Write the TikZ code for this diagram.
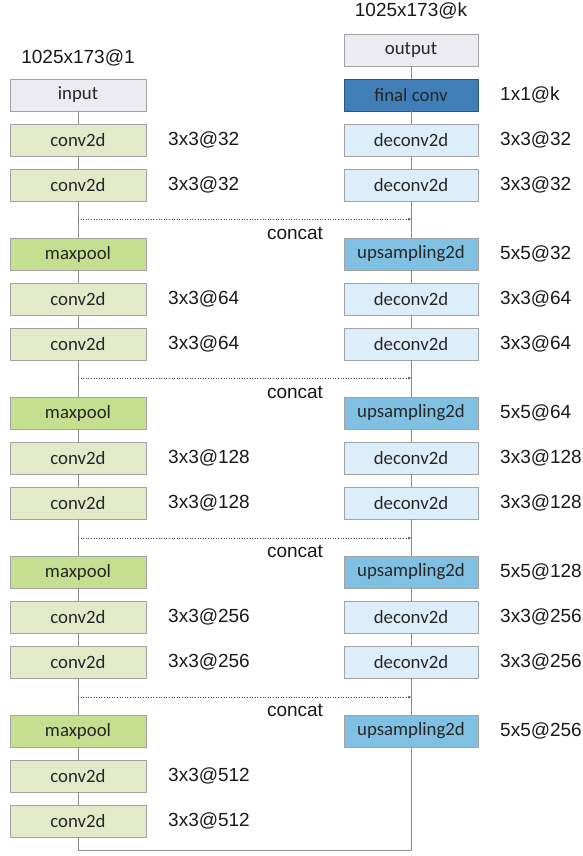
\documentclass[tikz,border=0pt]{standalone}
\usepackage{fontspec}
\setmainfont{Liberation Sans}
\newfontfamily\boxfont{Carlito}
\usetikzlibrary{arrows.meta}
\definecolor{boxline}{HTML}{A3A3A3}
\definecolor{ioFill}{HTML}{EBEBF1}
\definecolor{convFill}{HTML}{E2EACA}
\definecolor{poolFill}{HTML}{C5DF90}
\definecolor{deconvFill}{HTML}{DCEEFA}
\definecolor{upFill}{HTML}{80C1E3}
\definecolor{finalFill}{HTML}{3F7EB6}
\definecolor{linkgray}{HTML}{8C8C8C}
\begin{document}
\begin{tikzpicture}[x=1pt,y=-1pt,
  layer/.style={draw=boxline, line width=0.8pt, minimum height=32pt, inner sep=0pt,
    font=\boxfont\fontsize{18.8}{20}\selectfont, text=black!85},
  lbox/.style={layer, minimum width=136pt},
  rbox/.style={layer, minimum width=134pt},
  io/.style={fill=ioFill},
  conv/.style={fill=convFill},
  pool/.style={fill=poolFill},
  deconv/.style={fill=deconvFill},
  ups/.style={fill=upFill},
  final/.style={fill=finalFill, draw=finalFill!70!black},
  lab/.style={anchor=west, inner sep=0pt, font=\fontsize{19}{21}\selectfont, text=black!90},
  toplab/.style={inner sep=0pt, font=\fontsize{19}{21}\selectfont, text=black!90},
  link/.style={draw=linkgray, line width=0.8pt},
  skip/.style={draw=black!75, line width=0.6pt, dotted, -{Stealth[length=3pt,width=2.5pt]}},
  concatlab/.style={inner sep=0pt, font=\fontsize{19}{21}\selectfont, text=black!90}
]
\useasboundingbox (0,0) rectangle (583,856);

% ---- top labels
\node[toplab] (inlab) at (78,58) {1025x173@1};
\node[toplab] (outlab) at (411,11) {1025x173@k};

% ---- left column (encoder)
\node[lbox,io]   (L1)  at (78,95)  {input};
\node[lbox,conv] (L2)  at (78,140) {conv2d};
\node[lbox,conv] (L3)  at (78,185) {conv2d};
\node[lbox,pool] (L4)  at (78,254) {maxpool};
\node[lbox,conv] (L5)  at (78,299) {conv2d};
\node[lbox,conv] (L6)  at (78,344) {conv2d};
\node[lbox,pool] (L7)  at (78,413) {maxpool};
\node[lbox,conv] (L8)  at (78,458) {conv2d};
\node[lbox,conv] (L9)  at (78,503) {conv2d};
\node[lbox,pool] (L10) at (78,572) {maxpool};
\node[lbox,conv] (L11) at (78,617) {conv2d};
\node[lbox,conv] (L12) at (78,662) {conv2d};
\node[lbox,pool] (L13) at (78,731) {maxpool};
\node[lbox,conv] (L14) at (78,776) {conv2d};
\node[lbox,conv] (L15) at (78,821) {conv2d};

\node[lab] (tL2)  at (168,140) {3x3@32};
\node[lab] (tL3)  at (168,185) {3x3@32};
\node[lab] (tL5)  at (168,299) {3x3@64};
\node[lab] (tL6)  at (168,344) {3x3@64};
\node[lab] (tL8)  at (168,458) {3x3@128};
\node[lab] (tL9)  at (168,503) {3x3@128};
\node[lab] (tL11) at (168,617) {3x3@256};
\node[lab] (tL12) at (168,662) {3x3@256};
\node[lab] (tL14) at (168,776) {3x3@512};
\node[lab] (tL15) at (168,821) {3x3@512};

% ---- right column (decoder)
\node[rbox,io]     (R0)  at (411,50)  {output};
\node[rbox,final]  (R1)  at (411,95)  {final conv};
\node[rbox,deconv] (R2)  at (411,140) {deconv2d};
\node[rbox,deconv] (R3)  at (411,185) {deconv2d};
\node[rbox,ups]    (R4)  at (411,254) {upsampling2d};
\node[rbox,deconv] (R5)  at (411,299) {deconv2d};
\node[rbox,deconv] (R6)  at (411,344) {deconv2d};
\node[rbox,ups]    (R7)  at (411,413) {upsampling2d};
\node[rbox,deconv] (R8)  at (411,458) {deconv2d};
\node[rbox,deconv] (R9)  at (411,503) {deconv2d};
\node[rbox,ups]    (R10) at (411,572) {upsampling2d};
\node[rbox,deconv] (R11) at (411,617) {deconv2d};
\node[rbox,deconv] (R12) at (411,662) {deconv2d};
\node[rbox,ups]    (R13) at (411,731) {upsampling2d};

\node[lab] (tR1)  at (500,95)  {1x1@k};
\node[lab] (tR2)  at (500,140) {3x3@32};
\node[lab] (tR3)  at (500,185) {3x3@32};
\node[lab] (tR4)  at (500,254) {5x5@32};
\node[lab] (tR5)  at (500,299) {3x3@64};
\node[lab] (tR6)  at (500,344) {3x3@64};
\node[lab] (tR7)  at (500,413) {5x5@64};
\node[lab] (tR8)  at (500,458) {3x3@128};
\node[lab] (tR9)  at (500,503) {3x3@128};
\node[lab] (tR10) at (500,572) {5x5@128};
\node[lab] (tR11) at (500,617) {3x3@256};
\node[lab] (tR12) at (500,662) {3x3@256};
\node[lab] (tR13) at (500,731) {5x5@256};

% ---- vertical connectors
\foreach \a/\b in {L1/L2,L2/L3,L3/L4,L4/L5,L5/L6,L6/L7,L7/L8,L8/L9,L9/L10,L10/L11,L11/L12,L12/L13,L13/L14,L14/L15,
                   R0/R1,R1/R2,R2/R3,R3/R4,R4/R5,R5/R6,R6/R7,R7/R8,R8/R9,R9/R10,R10/R11,R11/R12,R12/R13}
  \draw[link] (\a.south) -- (\b.north);

% bottom link
\coordinate (bl) at (78,850);
\coordinate (br) at (411,850);
\draw[link] (L15.south) -- (bl) -- (br) -- (R13.south);

% ---- skip connections
\coordinate (s1a) at (78,219);  \coordinate (s1b) at (411,219);
\coordinate (s2a) at (78,378);  \coordinate (s2b) at (411,378);
\coordinate (s3a) at (78,538);  \coordinate (s3b) at (411,538);
\coordinate (s4a) at (78,697);  \coordinate (s4b) at (411,697);
\draw[skip] (s1a) -- (s1b);
\draw[skip] (s2a) -- (s2b);
\draw[skip] (s3a) -- (s3b);
\draw[skip] (s4a) -- (s4b);
\node[concatlab] (c1) at (295,233) {concat};
\node[concatlab] (c2) at (295,392) {concat};
\node[concatlab] (c3) at (295,551) {concat};
\node[concatlab] (c4) at (295,710) {concat};
\end{tikzpicture}
\end{document}
